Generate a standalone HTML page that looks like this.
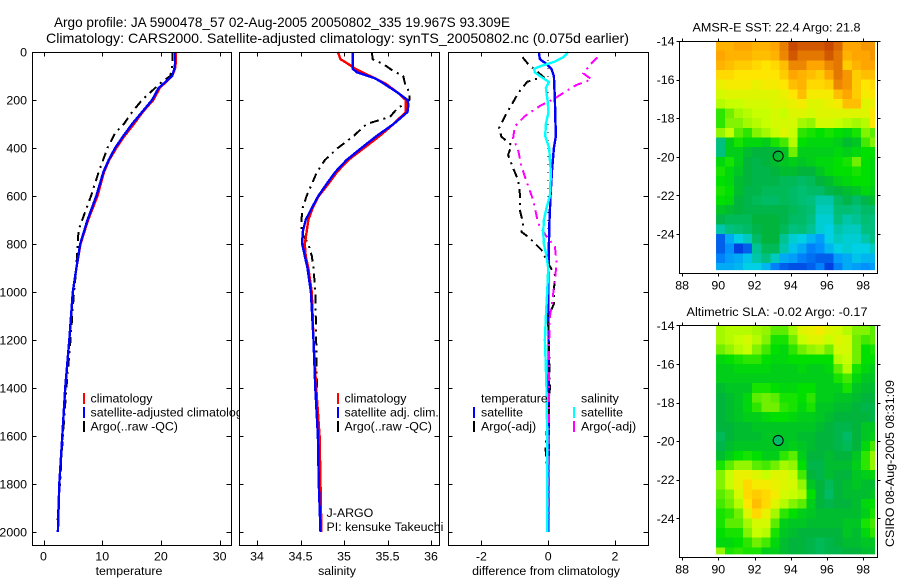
<!DOCTYPE html>
<html lang="en">
<head>
<meta charset="utf-8">
<title>Argo profile JA 5900478_57</title>
<style>
html,body{margin:0;padding:0;background:#fff;}
svg{display:block;font-family:"Liberation Sans",Arial,sans-serif;font-size:12.4px;fill:#000;}
</style>
</head>
<body>
<svg id="figure" xmlns="http://www.w3.org/2000/svg" width="900" height="580" viewBox="0 0 900 580">
<rect x="0" y="0" width="900" height="580" fill="#fff"/>
<text x="54" y="27" font-size="14" textLength="456" lengthAdjust="spacingAndGlyphs">Argo profile: JA 5900478_57 02-Aug-2005 20050802_335 19.967S 93.309E</text>
<text x="46" y="43" font-size="14" textLength="583" lengthAdjust="spacingAndGlyphs">Climatology: CARS2000. Satellite-adjusted climatology: synTS_20050802.nc (0.075d earlier)</text>
<g id="panels"></g>
<g id="maps"></g>
<text transform="translate(894,547) rotate(-90)" textLength="167" lengthAdjust="spacingAndGlyphs">CSIRO 08-Aug-2005 08:31:09</text>
</svg>
<script>
// ---- profile data ----
const depthTicks = [0,200,400,600,800,1000,1200,1400,1600,1800,2000];
const tempTicks = [0,10,20,30];
const salTicks = [34,34.5,35,35.5,36];
const diffTicks = [-2,0,2];

const tempBlueDepth = [0,50,70,100,150,200,250,300,350,400,450,500,600,700,800,900,1000,1200,1400,1600,1800,2000];
const tempBlue = [22.4,22.4,22.3,21.9,19.6,18.5,16.8,15.1,13.6,12.2,11.1,10.2,9.0,7.5,6.25,5.6,5.0,4.4,3.7,3.2,2.7,2.45];
const tempRedDepth = [0,50,70,100,150,200,250,300,350,400,450,500,600,700,800,900,1000,1200,1400,1600,1800,2000];
const tempRed = [22.5,22.5,22.4,21.9,19.8,18.7,16.9,15.4,13.8,12.4,11.2,10.3,9.2,7.6,6.3,5.6,5.0,4.4,3.7,3.2,2.7,2.45];
const tempArgoDepth = [0,50,100,130,200,250,300,337,400,500,600,740,800,900,1000,1200,1400,1600,1800,1950];
const tempArgo = [22.0,22.0,21.6,19.9,16.8,15.1,13.7,12.2,10.9,9.4,8.1,6.0,5.8,5.6,5.2,4.6,3.9,3.3,2.8,2.4];

const salBlueDepth = [0,70,85,110,130,170,200,220,250,300,350,400,450,500,550,600,650,700,750,800,850,900,1000,1200,1400,1600,1800,2000];
const salBlue = [35.10,35.10,35.15,35.36,35.45,35.62,35.73,35.74,35.73,35.57,35.375,35.20,35.03,34.90,34.80,34.705,34.63,34.56,34.525,34.52,34.55,34.58,34.62,34.65,34.67,34.70,34.71,34.73];
const salRedDepth = [0,30,50,70,100,130,170,200,250,300,350,400,450,500,550,600,650,700,750,800,850,900,1000,1200,1400,1600,1800,2000];
const salRed = [34.93,34.96,35.05,35.13,35.30,35.47,35.62,35.71,35.71,35.57,35.41,35.23,35.05,34.92,34.82,34.71,34.64,34.59,34.57,34.55,34.56,34.59,34.63,34.65,34.68,34.72,34.73,34.74];
const salArgoDepth = [0,30,50,80,100,130,170,200,240,270,300,350,400,450,500,550,600,650,700,750,800,850,900,1000,1200,1400,1600,1800];
const salArgo = [35.32,35.33,35.45,35.57,35.68,35.70,35.75,35.75,35.60,35.53,35.26,35.11,34.93,34.78,34.69,34.63,34.57,34.525,34.51,34.51,34.59,34.63,34.65,34.67,34.68,34.69,34.70,34.72];

const diffTempSatDepth = [0,30,50,70,100,200,300,350,400,500,600,700,800,900,1000,1400,2000];
const diffTempSat = [-0.28,-0.25,-0.05,0.10,0.17,0.20,0.22,0.23,0.17,0.11,0.07,0.04,0.02,0.01,0.0,0.02,0.0];
const diffSalSatDepth = [0,20,40,60,70,85,100,125,150,200,250,300,350,400,450,500,600,650,700,750,800,850,900,1000,1100,1200,1400,1600,2000];
const diffSalSat = [0.60,0.47,0.20,-0.25,-0.42,-0.40,-0.25,0.02,-0.07,-0.02,0.01,-0.07,-0.09,0.03,0.05,0.08,0.05,-0.05,-0.13,-0.15,-0.13,-0.05,0.0,-0.03,-0.07,-0.10,-0.05,-0.03,-0.03];
const diffTempArgoDepth = [22,50,103,124,172,221,269,318,353,388,429,478,533,589,658,714,749,776,825,881,929,978,1047,1103,1200,1400,1650,1800];
const diffTempArgo = [-0.77,-0.60,-0.15,-0.63,-0.90,-1.10,-1.30,-1.47,-1.40,-1.10,-1.20,-1.07,-0.90,-0.85,-0.85,-0.75,-0.80,-0.55,-0.20,0.0,0.20,0.18,0.18,0.0,0.02,0.05,-0.08,0.0];
const diffSalArgoDepth = [22,54,89,114,137,158,193,225,267,311,360,408,478,547,617,714,769,811,881,950,1006,1061,1103,1200,1400,1800,1950];
const diffSalArgo = [1.47,1.25,1.05,1.30,0.85,0.60,0.20,-0.25,-0.70,-1.00,-1.05,-0.90,-0.80,-0.63,-0.45,-0.30,-0.05,0.20,0.25,0.20,0.15,0.10,0.05,0.03,0.03,0.03,0.03];

// ---- map data: colour-scale level at each half-degree cell (row = latitude, col = longitude) ----
const mapLonTicks = [88,90,92,94,96,98];
const mapLatTicks = [-14,-16,-18,-20,-22,-24];
const argoLon = [93.309];
const argoLat = [-19.967];
const sstGrid = [
[98,98,100,100,98,98,100,105,112,110,110,110,112,108,100,100,102,102],
[100,98,98,98,96,96,98,104,110,106,106,106,110,106,98,100,100,102],
[98,96,94,94,92,90,92,96,104,104,100,100,104,106,94,98,100,100],
[92,92,90,90,90,90,90,94,100,98,96,94,100,106,102,94,96,96],
[86,88,88,88,86,88,88,90,96,98,92,92,94,104,102,94,90,92],
[82,84,84,84,84,84,84,86,90,96,88,88,88,96,100,94,88,90],
[78,80,80,82,82,82,84,84,86,88,84,84,86,88,96,96,84,86],
[64,70,76,78,80,80,82,80,84,84,82,84,84,84,84,84,84,90],
[64,72,72,76,78,80,82,82,82,76,74,82,82,80,78,76,78,90],
[74,80,68,64,72,76,80,84,80,64,62,60,62,60,58,62,72,68],
[40,56,62,58,58,56,62,66,78,60,58,58,58,56,52,54,66,72],
[40,56,56,52,50,50,50,54,70,56,56,56,56,58,56,58,60,60],
[58,62,56,50,48,50,52,54,56,54,56,58,58,60,62,70,60,58],
[62,58,54,50,48,48,50,52,52,50,50,54,58,60,60,62,60,58],
[60,58,52,50,48,48,48,46,46,44,46,50,52,56,58,60,60,58],
[62,60,52,48,48,46,46,46,44,42,44,44,48,50,52,54,58,56],
[60,58,50,48,46,44,44,46,44,42,40,36,36,44,48,44,48,52],
[54,52,50,48,48,48,48,48,46,44,42,34,34,42,42,40,44,44],
[48,46,46,46,50,50,50,48,44,44,40,32,32,40,36,38,42,40],
[36,40,42,44,48,50,50,46,40,42,38,32,30,36,34,34,40,40],
[14,24,30,34,44,50,50,38,32,30,26,22,30,34,32,32,36,40],
[14,20,10,14,38,46,46,36,28,24,18,20,26,30,32,30,30,34],
[18,22,24,28,36,40,34,24,22,18,16,14,14,22,24,28,26,26],
[24,24,26,30,30,26,18,14,12,12,14,18,10,18,24,22,20,22]
];
const slaGrid = [
[76,78,78,78,76,74,68,68,76,84,86,88,84,82,78,72,72,68],
[76,78,80,82,78,72,62,62,70,80,84,84,80,84,82,70,66,68],
[70,74,78,80,72,66,60,58,64,70,74,76,70,82,82,70,60,62],
[58,60,62,64,64,60,58,58,60,60,60,60,60,78,80,70,60,60],
[56,56,58,58,58,58,56,56,56,58,56,56,58,68,78,62,58,56],
[56,56,56,56,56,56,56,56,56,56,56,56,56,62,66,58,54,54],
[52,54,54,54,62,62,60,58,58,60,60,56,56,56,62,54,52,52],
[50,52,54,58,68,70,68,62,62,60,64,56,56,54,54,52,50,50],
[50,52,54,58,64,70,70,64,62,58,62,54,54,52,52,50,48,48],
[50,52,54,56,56,58,60,60,58,56,56,54,52,50,50,50,50,48],
[50,50,52,52,54,54,54,54,54,54,54,52,50,48,48,50,54,54],
[46,50,52,52,52,54,54,54,54,52,52,50,50,48,44,50,54,56],
[48,52,54,54,54,54,54,54,56,54,52,50,50,48,46,50,58,66],
[52,56,60,62,60,56,56,64,68,56,50,50,52,50,50,54,64,74],
[62,68,74,74,68,66,70,76,74,60,48,48,52,52,52,56,64,74],
[72,80,86,86,84,80,84,84,80,66,50,48,52,50,50,54,56,58],
[72,80,86,92,88,88,86,84,82,74,54,50,46,50,52,54,52,52],
[68,72,82,92,94,92,88,82,80,78,60,50,44,50,52,52,52,54],
[66,70,78,90,96,92,84,78,72,68,56,50,48,50,50,52,58,60],
[62,64,70,84,92,86,76,64,60,56,54,52,52,52,52,52,56,62],
[62,68,68,76,82,82,68,56,54,54,52,52,52,52,54,54,62,66],
[60,62,62,72,80,78,62,54,52,50,50,50,50,50,54,52,58,64],
[58,58,60,64,70,66,58,52,50,50,48,46,48,50,52,52,54,54],
[74,62,64,62,62,56,56,52,50,50,48,46,48,48,50,50,52,52]
];
const argoSlaLevel = [44];

// ---- drawing ----
const NS = 'http://www.w3.org/2000/svg';
function make(parent, tag, attrs, txt) {
  const n = document.createElementNS(NS, tag);
  for (const k in attrs) n.setAttribute(k, attrs[k]);
  if (txt !== undefined) n.textContent = txt;
  parent.appendChild(n);
  return n;
}
const PTOP = 52.5, PBOT = 545.5;
const yDepth = d => 52 + d * 0.24;

const colorStops = [[0,0,0,140],[10,0,64,224],[20,0,144,255],[30,0,208,230],[40,0,192,128],[50,0,180,60],[60,0,224,0],[70,112,240,0],[80,200,255,0],[90,255,230,0],[100,255,165,0],[112,200,72,0]];
function colorOf(v) {
  let i = 0;
  while (i < colorStops.length - 2 && v > colorStops[i + 1][0]) i++;
  const a = colorStops[i], b = colorStops[i + 1];
  const f = Math.max(0, Math.min(1, (v - a[0]) / (b[0] - a[0])));
  return 'rgb(' + [1, 2, 3].map(c => Math.round(a[c] + (b[c] - a[c]) * f)).join(',') + ')';
}

function drawSeries(g, name, depths, vals, xf, color, dash) {
  const pts = depths.map((d, i) => xf(vals[i]).toFixed(1) + ',' + yDepth(d).toFixed(1)).join(' ');
  const line = make(g, 'polyline', {points: pts, fill: 'none', stroke: color, 'stroke-width': dash ? 2 : 2.4, 'shape-rendering': 'crispEdges'});
  if (dash) line.setAttribute('stroke-dasharray', dash);
  
  
}

function drawLegend(g, items) {
  items.forEach(it => {
    if (it.color) {
      const bar = make(g, 'rect', {x: it.bx, y: it.y - 5, width: 2, height: 11, fill: it.color});
      
      
    }
    const t = make(g, 'text', {x: it.tx, y: it.y + 4.5}, it.label);
    
    
  });
}

function drawPanel(cfg) {
  const host = document.getElementById('panels');
  const g = make(host, 'g', {});
  
  
  const bg = make(g, 'rect', {x: cfg.x0, y: PTOP, width: cfg.x1 - cfg.x0, height: PBOT - PTOP, fill: '#fff'});
  
  
  cfg.draw(g);
  const frame = make(g, 'rect', {x: cfg.x0, y: PTOP, width: cfg.x1 - cfg.x0, height: PBOT - PTOP, fill: 'none', stroke: '#000', 'stroke-width': 1, 'shape-rendering': 'crispEdges'});
  
  
  cfg.xTicks.forEach(v => {
    const px = Math.round(cfg.xf(v)) + 0.5;
    const tk = make(g, 'path', {d: `M${px} ${PTOP}v4M${px} ${PBOT}v-5`, stroke: '#000', fill: 'none', 'shape-rendering': 'crispEdges'});
    
    
    const lb = make(g, 'text', {x: cfg.xf(v), y: 560.5, 'text-anchor': 'middle'}, String(v));
    
    
  });
  depthTicks.forEach(d => {
    const py = Math.round(yDepth(d)) + 0.5;
    const tk = make(g, 'path', {d: `M${cfg.x0} ${py}h4M${cfg.x1} ${py}h-5`, stroke: '#000', fill: 'none', 'shape-rendering': 'crispEdges'});
    
    
    if (cfg.yLabels) {
      const lb = make(g, 'text', {x: 27, y: yDepth(d) + 4.5, 'text-anchor': 'end'}, String(d));
      
      
    }
  });
  const title = make(g, 'text', {x: cfg.titleX, y: 575, 'text-anchor': 'middle'}, cfg.title);
  
  
}

const xTemp = v => 43.5 + v * 5.87;
const xSal = v => 257 + (v - 34) * 87;
const xDiff = v => 548.2 + v * 33.4;
const dashArgo = '9 5 2 5';

drawPanel({name: 'temperature-panel', x0: 32.5, x1: 231.5, xf: xTemp, xTicks: tempTicks, yLabels: true, title: 'temperature', titleX: 129,
  draw(g) {
    drawSeries(g, 'temperature-argo-line', tempArgoDepth, tempArgo, xTemp, '#000', dashArgo);
    drawSeries(g, 'temperature-climatology-line', tempRedDepth, tempRed, xTemp, '#f00');
    drawSeries(g, 'temperature-satellite-adjusted-line', tempBlueDepth, tempBlue, xTemp, '#00f');
    drawLegend(g, [
      {bx: 83, tx: 90.5, y: 398, color: '#f00', label: 'climatology'},
      {bx: 83, tx: 90.5, y: 412, color: '#00f', label: 'satellite-adjusted climatology'},
      {bx: 83, tx: 90.5, y: 426, color: '#000', label: 'Argo(..raw -QC)'}
    ]);
  }});

drawPanel({name: 'salinity-panel', x0: 239.5, x1: 439.5, xf: xSal, xTicks: salTicks, yLabels: false, title: 'salinity', titleX: 337,
  draw(g) {
    drawSeries(g, 'salinity-argo-line', salArgoDepth, salArgo, xSal, '#000', dashArgo);
    drawSeries(g, 'salinity-climatology-line', salRedDepth, salRed, xSal, '#f00');
    drawSeries(g, 'salinity-satellite-adjusted-line', salBlueDepth, salBlue, xSal, '#00f');
    drawLegend(g, [
      {bx: 337, tx: 344.5, y: 398, color: '#f00', label: 'climatology'},
      {bx: 337, tx: 344.5, y: 412, color: '#00f', label: 'satellite adj. clim.'},
      {bx: 337, tx: 344.5, y: 426, color: '#000', label: 'Argo(..raw -QC)'},
      {tx: 326.5, y: 512.5, label: 'J-ARGO'},
      {tx: 326.5, y: 526.5, label: 'PI: kensuke Takeuchi'}
    ]);
  }});

drawPanel({name: 'difference-panel', x0: 448.5, x1: 648.5, xf: xDiff, xTicks: diffTicks, yLabels: false, title: 'difference from climatology', titleX: 546,
  draw(g) {
    const zero = make(g, 'line', {x1: xDiff(0), x2: xDiff(0), y1: yDepth(0), y2: yDepth(2000), stroke: '#000', 'stroke-width': 1, 'stroke-dasharray': '1 7', 'shape-rendering': 'crispEdges'});
    
    
    drawSeries(g, 'temperature-satellite-difference-line', diffTempSatDepth, diffTempSat, xDiff, '#00f');
    drawSeries(g, 'temperature-argo-difference-line', diffTempArgoDepth, diffTempArgo, xDiff, '#000', dashArgo);
    drawSeries(g, 'salinity-argo-difference-line', diffSalArgoDepth, diffSalArgo, xDiff, '#f0f', dashArgo);
    drawSeries(g, 'salinity-satellite-difference-line', diffSalSatDepth, diffSalSat, xDiff, '#0ff');
    drawLegend(g, [
      {tx: 481, y: 398, label: 'temperature'},
      {bx: 473, tx: 481, y: 412, color: '#00f', label: 'satellite'},
      {bx: 473, tx: 481, y: 426, color: '#000', label: 'Argo(-adj)'},
      {tx: 581, y: 398, label: 'salinity'},
      {bx: 573, tx: 581, y: 412, color: '#0ff', label: 'satellite'},
      {bx: 573, tx: 581, y: 426, color: '#f0f', label: 'Argo(-adj)'}
    ]);
  }});

function drawMap(cfg) {
  const host = document.getElementById('maps');
  const g = make(host, 'g', {});
  
  
  const X0 = 679.5, X1 = 877.5;
  const xLon = lon => 718.3 + (lon - 90) * 18.1;
  const yLat = lat => cfg.top + (-14 - lat) * 19.3;
  const clipId = cfg.name + '-clip';
  const defs = make(g, 'defs', {});
  const cp = make(defs, 'clipPath', {id: clipId});
  make(cp, 'rect', {x: xLon(89.875), y: yLat(-14), width: xLon(98.66) - xLon(89.875), height: yLat(cfg.lastLat) - yLat(-14)});
  const cells = make(g, 'g', {'clip-path': 'url(#' + clipId + ')', 'shape-rendering': 'crispEdges'});
  
  
  cfg.grid.forEach((row, r) => row.forEach((v, c) => {
    const lon0 = 89.875 + c * 0.5, lat0 = -14 - r * 0.5;
    const cell = make(cells, 'rect', {x: xLon(lon0), y: yLat(lat0), width: xLon(lon0 + 0.5) - xLon(lon0) + 0.5, height: yLat(lat0 - 0.5) - yLat(lat0) + 0.5, fill: colorOf(v)});
    
    
  }));
  const top = Math.round(cfg.top) + 0.5, bot = top + cfg.h;
  const frame = make(g, 'rect', {x: X0, y: top, width: X1 - X0, height: cfg.h, fill: 'none', stroke: '#000', 'shape-rendering': 'crispEdges'});
  
  
  mapLonTicks.forEach(v => {
    const px = Math.round(xLon(v)) + 0.5;
    const tk = make(g, 'path', {d: `M${px} ${top}v-3M${px} ${bot}v3`, stroke: '#000', fill: 'none', 'shape-rendering': 'crispEdges'});
    
    
    const lb = make(g, 'text', {x: xLon(v), y: bot + 16, 'text-anchor': 'middle'}, String(v));
    
    
  });
  mapLatTicks.forEach(v => {
    const py = Math.round(yLat(v)) + 0.5;
    const tk = make(g, 'path', {d: `M${X0} ${py}h-3M${X1} ${py}h3`, stroke: '#000', fill: 'none', 'shape-rendering': 'crispEdges'});
    
    
    const lb = make(g, 'text', {x: 674.5, y: yLat(v) + 4.5, 'text-anchor': 'end'}, String(v));
    
    
  });
  const marker = make(g, 'circle', {cx: xLon(argoLon[0]), cy: yLat(argoLat[0]), r: 5, fill: cfg.markerFill, stroke: '#000', 'stroke-width': 1});
  
  
  const title = make(g, 'text', {x: cfg.titleX, y: cfg.titleY, textLength: cfg.titleW, lengthAdjust: 'spacingAndGlyphs'}, cfg.title);
  
  
}

drawMap({name: 'sst-map', top: 41, h: 232, lastLat: -25.87, grid: sstGrid, markerFill: 'none', title: 'AMSR-E SST: 22.4 Argo: 21.8', titleX: 692.5, titleY: 31.5, titleW: 168});
drawMap({name: 'sla-map', top: 325.3, h: 232, lastLat: -25.87, grid: slaGrid, markerFill: colorOf(argoSlaLevel[0]), title: 'Altimetric SLA: -0.02 Argo: -0.17', titleX: 686.5, titleY: 316, titleW: 181});
</script>
</body>
</html>
